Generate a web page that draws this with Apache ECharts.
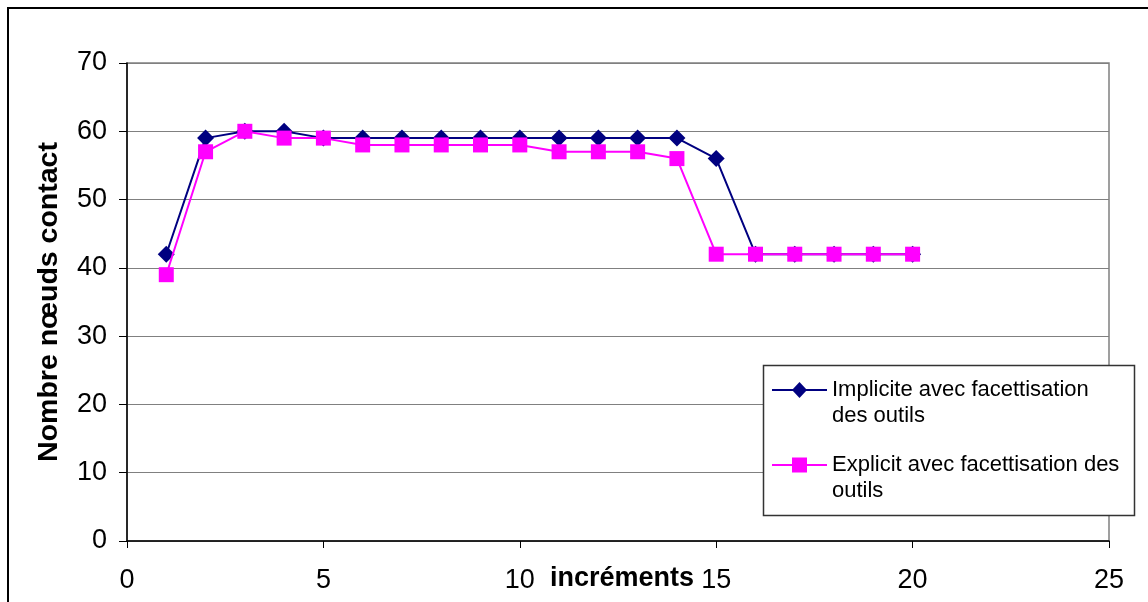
<!DOCTYPE html>
<html>
<head>
<meta charset="utf-8">
<script src="https://cdn.jsdelivr.net/npm/echarts@6/dist/echarts.min.js"></script>
<style>
html,body{margin:0;padding:0;background:#fff;}
#chart{width:1148px;height:602px;}
</style>
</head>
<body>
<div id="chart"></div>
<script>
var increments = [1,2,3,4,5,6,7,8,9,10,11,12,13,14,15,16,17,18,19,20];
var impliciteValues = [42,59,60,60,59,59,59,59,59,59,59,59,59,59,56,42,42,42,42,42];
var expliciteValues = [39,57,60,59,59,58,58,58,58,58,57,57,57,56,42,42,42,42,42,42];
var seriesNames = ['Implicite avec facettisation\ndes outils', 'Explicit avec facettisation des\noutils'];
var xTitle = 'incréments';
var yTitle = 'Nombre nœuds contact';

function pairs(xs, ys){ return xs.map(function(x,i){ return [x, ys[i]]; }); }

var FONT = 'Arial, "Liberation Sans", sans-serif';
var chart = echarts.init(document.getElementById('chart'), null, {renderer:'canvas'});

var lx = 763, ly = 365, lw = 371, lh = 150;
function legendItem(y, color, symbol, label){
  var kids = [
    {type:'line', z:101, shape:{x1:772,y1:y,x2:827,y2:y}, style:{stroke:color, lineWidth:2}},
    {type:'text', z:101, style:{x:832, y:y-13, text:label, font:'22px ' + FONT, fill:'#000', lineHeight:26, textVerticalAlign:'top'}}
  ];
  if (symbol === 'diamond') {
    kids.push({type:'polygon', z:102, shape:{points:[[799.5,y-8],[807,y],[799.5,y+8],[792,y]]}, style:{fill:color}});
  } else {
    kids.push({type:'rect', z:102, shape:{x:792,y:y-7.5,width:15,height:15}, style:{fill:color}});
  }
  return kids;
}

var option = {
  backgroundColor:'#fff',
  animation:false,
  grid:{left:127, top:63, width:982, height:478, show:true, borderColor:'#808080', borderWidth:1.5,
        backgroundColor:'transparent', containLabel:false, outerBoundsMode:'none'},
  xAxis:{
    type:'value', min:0, max:25, interval:5,
    name:xTitle, nameLocation:'middle', nameGap:24, nameMoveOverlap:false,
    nameTextStyle:{fontFamily:FONT, fontSize:27, fontWeight:'bold', color:'#000', padding:[0,0,0,8]},
    axisLine:{show:true, onZero:false, lineStyle:{color:'#000', width:1.5}},
    axisTick:{show:true, inside:false, length:7, lineStyle:{color:'#000'}},
    axisLabel:{fontFamily:FONT, fontSize:27, color:'#000', margin:26},
    splitLine:{show:false}
  },
  yAxis:{
    type:'value', min:0, max:70, interval:10,
    name:yTitle, nameLocation:'middle', nameGap:63, nameRotate:90, nameMoveOverlap:false,
    nameTextStyle:{fontFamily:FONT, fontSize:28.5, fontWeight:'bold', color:'#000'},
    axisLine:{show:true, lineStyle:{color:'#000', width:1.5}},
    axisTick:{show:true, inside:false, length:8, lineStyle:{color:'#000'}},
    axisLabel:{fontFamily:FONT, fontSize:27, color:'#000', margin:20},
    splitLine:{show:true, lineStyle:{color:'#808080', width:1}}
  },
  series:[
    {name:seriesNames[0], type:'line', data:pairs(increments, impliciteValues),
     symbol:'diamond', symbolSize:17, lineStyle:{color:'#000080', width:2},
     itemStyle:{color:'#000080'}, z:2},
    {name:seriesNames[1], type:'line', data:pairs(increments, expliciteValues),
     symbol:'rect', symbolSize:15, lineStyle:{color:'#FF00FF', width:2},
     itemStyle:{color:'#FF00FF'}, z:3}
  ],
  graphic:[
    {type:'rect', z:100, shape:{x:8,y:8,width:1300,height:800}, style:{fill:'none', stroke:'#000', lineWidth:2}, silent:true},
    {type:'rect', z:100, shape:{x:lx+0.5,y:ly+0.5,width:lw,height:lh}, style:{fill:'#fff', stroke:'#333', lineWidth:1.5}},
    {type:'group', z:101, children:
      legendItem(390, '#000080', 'diamond', seriesNames[0])
      .concat(legendItem(465, '#FF00FF', 'rect', seriesNames[1]))
    }
  ]
};
chart.setOption(option);
</script>
</body>
</html>
